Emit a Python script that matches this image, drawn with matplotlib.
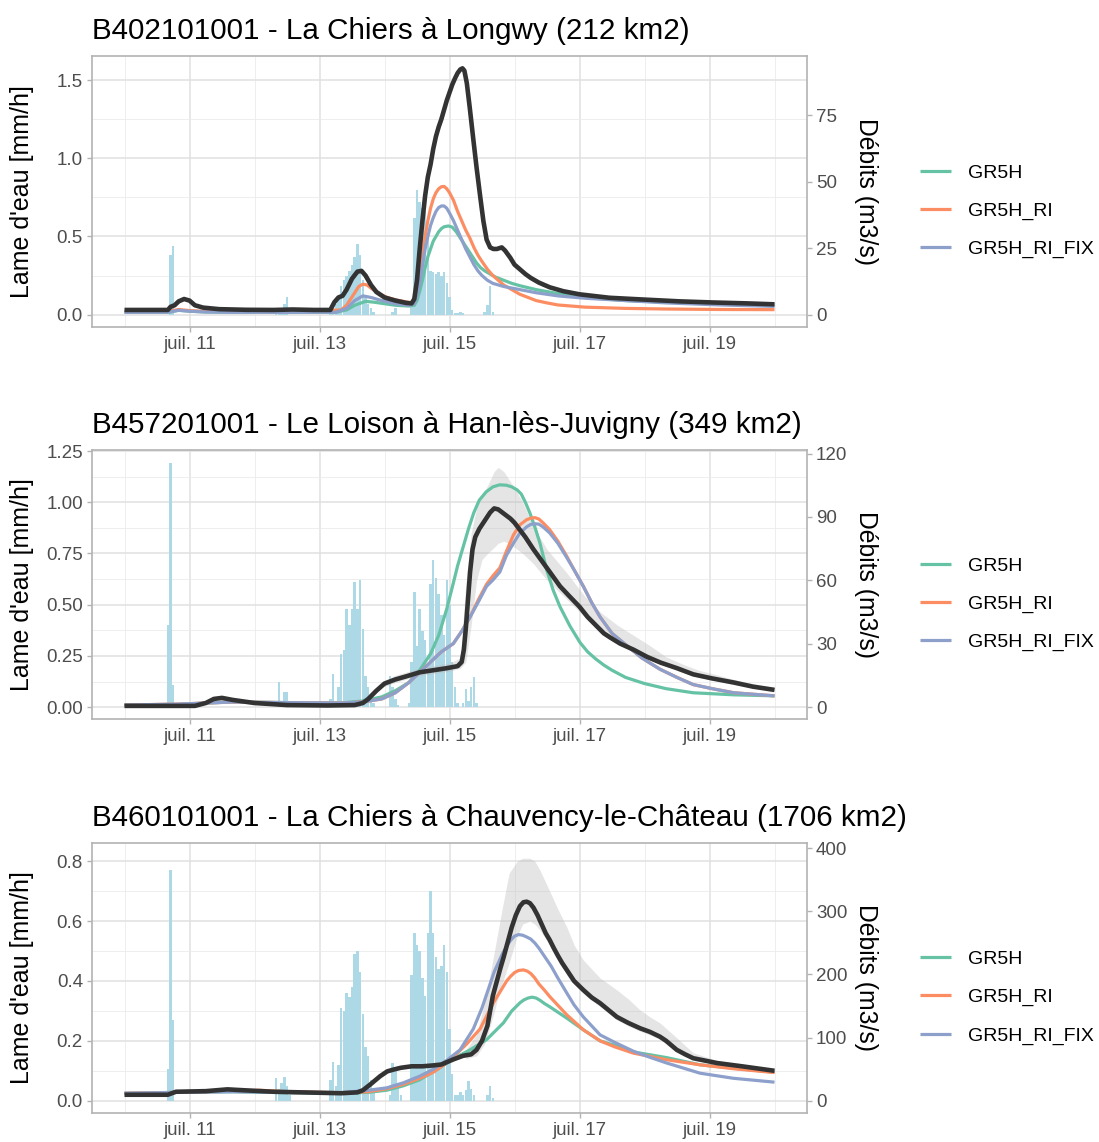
import numpy as np
import matplotlib
matplotlib.use("Agg")
import matplotlib.pyplot as plt
import matplotlib.dates as mdates
from matplotlib.ticker import FixedLocator, FuncFormatter

plt.rcParams['font.family'] = ['Liberation Sans', 'DejaVu Sans']

# ---------------- DATA (hours since 2021-07-10 00:00, values in mm/h) ----------------
titles = ["B402101001 - La Chiers à Longwy (212 km2)",
          "B457201001 - Le Loison à Han-lès-Juvigny (349 km2)",
          "B460101001 - La Chiers à Chauvency-le-Château (1706 km2)"]
areas = [212, 349, 1706]
series_names = ["GR5H", "GR5H_RI", "GR5H_RI_FIX"]

# --- Panel 1 ---
rain1_h = [17, 18, 56, 57, 58, 59, 60,
           76, 77, 78, 79, 80, 81, 82, 83, 84, 85, 86, 87, 88, 89, 90, 91, 92, 99, 100,
           106, 107, 108, 109, 110, 111, 112, 113, 114, 115, 116, 117, 118, 119, 120, 121, 122, 123, 124, 125,
           133, 134, 135, 136]
rain1_v = [0.38, 0.44, 0.01, 0.02, 0.03, 0.07, 0.11,
           0.02, 0.04, 0.07, 0.12, 0.18, 0.22, 0.25, 0.28, 0.32, 0.37, 0.45, 0.38, 0.22, 0.12, 0.07, 0.04, 0.02, 0.02, 0.04,
           0.05, 0.62, 0.80, 0.72, 0.68, 0.66, 0.50, 0.28, 0.27, 0.26, 0.27, 0.25, 0.27, 0.20, 0.11, 0.03, 0.01, 0.01, 0.015, 0.01,
           0.02, 0.06, 0.18, 0.02]
obs1_t = [0, 16, 17, 18.5, 20, 22, 24, 26, 29, 35, 45, 55, 62, 70, 76, 77.5, 79, 80.5, 82, 84, 86, 87.5, 89, 91, 93, 96,
          100, 104, 106, 107, 108, 109, 110, 111, 112, 113, 114, 115, 116, 117, 118, 119, 120, 121, 122, 123, 124,
          124.8, 125.5, 126.4, 127.5, 128.8, 130, 131.3, 132.5, 133.7, 135, 136.2, 137.5, 139.3, 140.5, 142.4, 144,
          146, 148, 150, 153, 157, 162, 168, 179, 190, 205, 217, 230, 240]
obs1_v = [0.03, 0.03, 0.05, 0.06, 0.085, 0.10, 0.09, 0.06, 0.045, 0.035, 0.031, 0.03, 0.033, 0.03, 0.03, 0.08, 0.11,
          0.12, 0.16, 0.23, 0.275, 0.28, 0.25, 0.19, 0.145, 0.11, 0.09, 0.075, 0.072, 0.10, 0.22, 0.42, 0.60, 0.76,
          0.88, 0.96, 1.06, 1.14, 1.20, 1.25, 1.31, 1.37, 1.42, 1.47, 1.51, 1.545, 1.568, 1.575, 1.56, 1.48, 1.32,
          1.12, 0.94, 0.76, 0.60, 0.48, 0.43, 0.42, 0.42, 0.43, 0.41, 0.365, 0.32, 0.29, 0.26, 0.235, 0.205, 0.175,
          0.15, 0.13, 0.108, 0.098, 0.085, 0.078, 0.072, 0.066]
gr5h1_t = [0, 16, 20, 24, 30, 40, 60, 78, 82, 85, 89, 92, 96, 100, 105, 107, 108, 109, 110, 111, 112, 113, 114, 115,
           116, 117, 118, 119.6, 121, 122.5, 124, 125.5, 127, 128.5, 130, 131.5, 133, 135, 137, 140, 143, 146, 152,
           160, 170, 185, 200, 220, 240]
gr5h1_v = [0.015, 0.015, 0.028, 0.022, 0.017, 0.015, 0.015, 0.015, 0.03, 0.06, 0.085, 0.08, 0.07, 0.06, 0.055, 0.06,
           0.09, 0.15, 0.22, 0.30, 0.37, 0.42, 0.47, 0.50, 0.53, 0.55, 0.562, 0.567, 0.56, 0.53, 0.49, 0.45, 0.41,
           0.37, 0.33, 0.30, 0.28, 0.26, 0.24, 0.22, 0.20, 0.185, 0.16, 0.135, 0.11, 0.09, 0.08, 0.07, 0.064]
ri1_t = [0, 16, 20, 24, 30, 40, 60, 80, 82, 83.5, 85, 86.5, 88, 89.5, 91, 93, 95, 97, 100, 103, 106, 107, 108, 109,
         110, 111, 112, 113, 114, 115, 116, 117, 118, 119, 120, 121.5, 123, 124.5, 126, 127.5, 129, 130.5, 132, 134,
         136, 138, 140, 143, 146, 149, 152, 156, 160, 170, 185, 200, 220, 240]
ri1_v = [0.02, 0.02, 0.033, 0.026, 0.021, 0.02, 0.02, 0.03, 0.06, 0.10, 0.14, 0.18, 0.195, 0.19, 0.17, 0.145, 0.125,
         0.11, 0.095, 0.085, 0.075, 0.09, 0.15, 0.25, 0.37, 0.50, 0.60, 0.68, 0.74, 0.78, 0.805, 0.818, 0.82, 0.805,
         0.78, 0.73, 0.66, 0.60, 0.54, 0.49, 0.43, 0.38, 0.34, 0.29, 0.25, 0.22, 0.19, 0.16, 0.13, 0.11, 0.09,
         0.075, 0.062, 0.048, 0.04, 0.036, 0.033, 0.032]
fix1_t = [0, 16, 20, 24, 30, 40, 60, 78, 82, 85, 88, 91, 95, 100, 105, 107, 108, 109, 110, 111, 112, 113, 114, 115,
          116, 117, 118, 119, 120, 121.5, 123, 124.5, 126, 127.5, 129, 130.5, 132, 134, 136, 138, 140, 143, 146, 152,
          160, 170, 185, 200, 220, 240]
fix1_v = [0.015, 0.015, 0.028, 0.022, 0.017, 0.015, 0.015, 0.015, 0.04, 0.09, 0.12, 0.11, 0.09, 0.07, 0.06, 0.07,
          0.12, 0.20, 0.31, 0.42, 0.50, 0.57, 0.62, 0.66, 0.685, 0.695, 0.695, 0.68, 0.65, 0.60, 0.54, 0.48, 0.42,
          0.37, 0.32, 0.28, 0.25, 0.22, 0.20, 0.19, 0.18, 0.17, 0.16, 0.14, 0.12, 0.105, 0.09, 0.075, 0.062, 0.053]

# --- Panel 2 ---
rain2_h = [16, 17, 18, 57, 59, 60,
           76, 77, 78, 79, 80, 81, 82, 83, 84, 85, 86, 87, 88, 89, 90, 91, 92, 98, 99, 100, 101,
           105, 106, 107, 108, 109, 110, 111, 112, 113, 114, 115, 116, 117, 118, 119, 120, 121, 122, 123,
           125, 126, 127, 128, 129, 130]
rain2_v = [0.40, 1.19, 0.11, 0.125, 0.075, 0.075,
           0.04, 0.16, 0.03, 0.10, 0.26, 0.28, 0.48, 0.40, 0.48, 0.61, 0.48, 0.62, 0.38, 0.15, 0.10, 0.05, 0.02,
           0.15, 0.10, 0.04, 0.01,
           0.02, 0.22, 0.56, 0.30, 0.48, 0.37, 0.33, 0.20, 0.60, 0.72, 0.63, 0.55, 0.45, 0.35, 0.62, 0.50, 0.22,
           0.10, 0.02, 0.02, 0.09, 0.03, 0.10, 0.145, 0.02]
obs2_t = [0, 26, 30, 33, 36, 40, 48, 60, 75, 85, 88, 90, 93, 96, 100, 104, 109, 114, 119, 123, 124.5, 125.3, 126,
          126.8, 127.6, 128.5, 129.5, 131, 133, 135, 136.5, 138, 139.5, 141, 142.5, 144, 146, 148, 151, 154, 157,
          160.8, 164, 168, 171, 174, 177, 179.3, 183, 188, 193, 198, 204, 210, 217, 225, 232, 240]
obs2_v = [0.006, 0.006, 0.02, 0.04, 0.045, 0.035, 0.02, 0.01, 0.008, 0.01, 0.02, 0.04, 0.08, 0.115, 0.135, 0.15,
          0.17, 0.18, 0.19, 0.20, 0.22, 0.28, 0.38, 0.52, 0.66, 0.77, 0.83, 0.87, 0.91, 0.95, 0.97, 0.965, 0.95,
          0.935, 0.92, 0.90, 0.865, 0.83, 0.77, 0.715, 0.66, 0.59, 0.545, 0.49, 0.44, 0.40, 0.36, 0.34, 0.31, 0.28,
          0.245, 0.217, 0.19, 0.16, 0.14, 0.12, 0.10, 0.084]
gr5h2_t = [0, 20, 30, 40, 60, 80, 88, 95, 100, 105, 109, 113, 116, 119, 121.5, 123, 125, 127, 129, 131, 133.5, 136,
           138.5, 141, 143, 145, 146.5, 148, 149.7, 151.5, 153.4, 155.9, 158.3, 160.8, 164.5, 168.2, 171, 174, 177,
           180, 185, 192, 200, 210, 225, 240]
gr5h2_v = [0.01, 0.012, 0.02, 0.025, 0.022, 0.02, 0.03, 0.05, 0.08, 0.12, 0.18, 0.26, 0.35, 0.48, 0.61, 0.69, 0.78,
           0.87, 0.95, 1.01, 1.05, 1.075, 1.085, 1.083, 1.075, 1.06, 1.04, 1.0, 0.947, 0.88, 0.80, 0.67, 0.57, 0.49,
           0.395, 0.315, 0.27, 0.235, 0.205, 0.18, 0.145, 0.115, 0.09, 0.07, 0.06, 0.055]
ri2_t = [0, 20, 30, 40, 60, 80, 88, 95, 100, 105, 109, 113, 117, 121.4, 124.5, 127.6, 130.5, 133.7, 136, 138.6, 141,
         143.6, 146, 148.5, 150, 151.5, 153, 154.5, 157, 160, 163.3, 166, 169.4, 172.5, 175.6, 180, 185.5, 191,
         197.7, 204, 210, 217, 225, 240]
ri2_v = [0.01, 0.015, 0.02, 0.025, 0.022, 0.02, 0.025, 0.04, 0.07, 0.12, 0.17, 0.22, 0.27, 0.31, 0.37, 0.44, 0.52,
         0.60, 0.64, 0.68, 0.76, 0.84, 0.89, 0.915, 0.922, 0.925, 0.918, 0.90, 0.866, 0.81, 0.736, 0.67, 0.59, 0.51,
         0.44, 0.36, 0.30, 0.24, 0.185, 0.145, 0.11, 0.09, 0.07, 0.055]
fix2_t = [0, 20, 30, 40, 60, 80, 88, 95, 100, 105, 109, 113, 117, 121.4, 124.5, 127.6, 130.5, 133.7, 136, 138.6, 141,
          143.6, 146, 148.5, 150, 151.5, 153, 154.5, 157, 160, 163.3, 166, 169.4, 172.5, 175.6, 180, 185.5, 191,
          197.7, 204, 210, 217, 225, 240]
fix2_v = [0.01, 0.015, 0.02, 0.025, 0.022, 0.02, 0.025, 0.04, 0.07, 0.12, 0.17, 0.22, 0.27, 0.31, 0.37, 0.44, 0.51,
          0.59, 0.62, 0.66, 0.74, 0.80, 0.85, 0.88, 0.892, 0.895, 0.893, 0.88, 0.85, 0.80, 0.73, 0.67, 0.59, 0.51,
          0.44, 0.36, 0.30, 0.24, 0.185, 0.145, 0.11, 0.09, 0.07, 0.055]
rib2_t = [96, 100, 105, 110, 115, 120, 124, 126, 128, 130, 132, 134, 136.5, 138, 140, 142, 144, 147, 151, 156, 163,
          170, 176, 182, 188, 194, 200, 206, 212, 218, 225, 232, 240]
rib2_hi = [0.13, 0.155, 0.175, 0.195, 0.205, 0.215, 0.24, 0.60, 0.85, 0.97, 1.03, 1.08, 1.15, 1.17, 1.15, 1.11,
           1.07, 1.0, 0.88, 0.77, 0.66, 0.54, 0.46, 0.40, 0.35, 0.30, 0.245, 0.21, 0.18, 0.16, 0.135, 0.115, 0.095]
rib2_lo = [0.10, 0.12, 0.14, 0.155, 0.165, 0.175, 0.19, 0.22, 0.40, 0.62, 0.72, 0.75, 0.78, 0.80, 0.81, 0.80, 0.78,
           0.75, 0.70, 0.62, 0.53, 0.44, 0.37, 0.31, 0.27, 0.23, 0.20, 0.17, 0.145, 0.13, 0.11, 0.095, 0.08]

# --- Panel 3 ---
rain3_h = [16, 17, 18, 56, 57, 58, 59, 60, 61,
           76, 77, 78, 79, 80, 81, 82, 83, 84, 85, 86, 87, 88, 89, 90, 91, 92, 98, 99, 100, 101, 102,
           106, 107, 108, 109, 110, 111, 112, 113, 114, 115, 116, 117, 118, 119, 120, 121, 122, 123, 124, 125, 126,
           127, 128, 129, 134, 135, 136]
rain3_v = [0.105, 0.77, 0.27, 0.075, 0.04, 0.06, 0.08, 0.05, 0.02,
           0.07, 0.13, 0.05, 0.12, 0.31, 0.30, 0.36, 0.345, 0.38, 0.49, 0.50, 0.43, 0.29, 0.18, 0.15, 0.07, 0.03,
           0.02, 0.127, 0.10, 0.05, 0.02,
           0.42, 0.56, 0.52, 0.50, 0.41, 0.35, 0.56, 0.70, 0.56, 0.48, 0.44, 0.45, 0.52, 0.43, 0.24, 0.09, 0.02,
           0.02, 0.03, 0.02, 0.035, 0.065, 0.04, 0.02, 0.02, 0.05, 0.01]
obs3_t = [0, 16, 19, 30, 38, 44, 55, 70, 80, 86, 88, 90.7, 94.4, 97, 99.3, 102, 106, 110, 114, 117, 121.4, 125, 128,
          130, 132, 134, 136, 137.5, 138.7, 140, 141.5, 143, 144.5, 146, 147.3, 148.5, 149.7, 151, 152.5, 154, 155.5,
          157, 158.5, 160, 161.6, 163.3, 166, 169.4, 172.5, 175.6, 181.8, 186, 190.4, 194, 197.7, 200, 203.9, 207,
          210, 218.7, 228, 240]
obs3_v = [0.02, 0.02, 0.03, 0.032, 0.038, 0.035, 0.03, 0.027, 0.025, 0.028, 0.035, 0.054, 0.082, 0.098, 0.104, 0.11,
          0.115, 0.115, 0.118, 0.121, 0.138, 0.15, 0.155, 0.17, 0.20, 0.25, 0.35, 0.40, 0.44, 0.48, 0.53, 0.58,
          0.62, 0.65, 0.663, 0.665, 0.66, 0.645, 0.62, 0.59, 0.56, 0.537, 0.51, 0.485, 0.46, 0.437, 0.40, 0.37,
          0.345, 0.326, 0.28, 0.26, 0.242, 0.23, 0.214, 0.20, 0.17, 0.155, 0.142, 0.126, 0.115, 0.10]
gr5h3_t = [0, 20, 40, 60, 80, 90, 96.8, 103, 109, 115.3, 121.4, 127.6, 133.7, 139.9, 143, 146, 147.5, 149, 150.5,
           152, 153.5, 155, 157, 163.3, 169.4, 175.6, 181, 187.9, 200.2, 212.5, 240]
gr5h3_v = [0.025, 0.028, 0.03, 0.027, 0.025, 0.028, 0.035, 0.05, 0.07, 0.104, 0.14, 0.17, 0.204, 0.26, 0.30, 0.327,
           0.337, 0.343, 0.346, 0.343, 0.335, 0.325, 0.314, 0.276, 0.237, 0.20, 0.185, 0.163, 0.144, 0.12, 0.095]
ri3_t = [0, 20, 40, 50, 60, 80, 90, 96.8, 103, 109, 114, 119, 123, 126.4, 131.3, 136.2, 141.1, 142.5, 144, 145.5,
         147.3, 148.7, 150, 151.5, 153, 155, 157, 163.3, 169.4, 175.6, 181, 187.9, 200.2, 212.5, 224.8, 240]
ri3_v = [0.025, 0.028, 0.032, 0.035, 0.03, 0.027, 0.03, 0.04, 0.055, 0.075, 0.095, 0.127, 0.16, 0.19, 0.24, 0.327,
         0.40, 0.415, 0.428, 0.435, 0.437, 0.433, 0.425, 0.41, 0.39, 0.37, 0.348, 0.287, 0.237, 0.20, 0.18, 0.159,
         0.137, 0.12, 0.107, 0.094]
fix3_t = [0, 20, 40, 60, 80, 90, 96.8, 103, 109, 114, 119, 123.9, 128.8, 132, 135, 136.5, 138, 139.5, 141, 142.5,
          144, 145.5, 147, 148.5, 150, 151.5, 153, 154.5, 156, 157.5, 160, 163.3, 166, 169.4, 175.6, 181, 188, 194,
          200.2, 212.5, 224.8, 240]
fix3_v = [0.025, 0.028, 0.03, 0.028, 0.027, 0.035, 0.043, 0.06, 0.082, 0.105, 0.135, 0.17, 0.24, 0.31, 0.39, 0.43,
          0.46, 0.49, 0.515, 0.535, 0.55, 0.555, 0.553, 0.547, 0.54, 0.527, 0.51, 0.49, 0.47, 0.45, 0.41, 0.36, 0.32,
          0.28, 0.22, 0.195, 0.165, 0.145, 0.126, 0.092, 0.075, 0.062]
rib3_t = [126, 130, 133, 136, 139, 142, 145, 147, 149.7, 151.5, 153.4, 157, 160, 163.3, 166, 169.4, 172.5, 175.6,
          181.8, 186, 190.4, 194, 197.7, 203.9, 210, 218.7, 228, 240]
rib3_hi = [0.17, 0.22, 0.33, 0.47, 0.62, 0.76, 0.80, 0.81, 0.81, 0.80, 0.77, 0.70, 0.64, 0.58, 0.52, 0.47, 0.44, 0.41,
           0.37, 0.34, 0.303, 0.28, 0.26, 0.21, 0.16, 0.135, 0.12, 0.105]
rib3_lo = [0.14, 0.15, 0.19, 0.28, 0.38, 0.46, 0.55, 0.59, 0.60, 0.59, 0.57, 0.52, 0.47, 0.42, 0.39, 0.36, 0.335,
           0.315, 0.27, 0.25, 0.232, 0.22, 0.205, 0.163, 0.137, 0.12, 0.11, 0.095]

left_ticks = [[0, 0.5, 1.0, 1.5], [0, 0.25, 0.5, 0.75, 1.0, 1.25], [0, 0.2, 0.4, 0.6, 0.8]]
left_fmt = ["{:.1f}", "{:.2f}", "{:.1f}"]
right_ticks = [[0, 25, 50, 75], [0, 30, 60, 90, 120], [0, 100, 200, 300, 400]]

# ---------------- STYLE ----------------
COLS = ['#66C2A5', '#FC8D62', '#8DA0CB']
OBS_COL = '#333333'
RAIN_COL = '#ADD8E6'
GRID_COL = '#E0E0E0'
BORDER_COL = '#B3B3B3'
TEXT_COL = '#4D4D4D'

W, H = 1099, 1142
fig = plt.figure(figsize=(W / 100, H / 100), dpi=100)

panel_px = [(56, 327), (450, 719), (843, 1113)]
ylims = [(-0.079, 1.654), (-0.058, 1.255), (-0.041, 0.861)]
BASE = np.datetime64('2021-07-10T00:00')


def to_num(hours):
    secs = np.round(np.asarray(hours, dtype=float) * 3600).astype(np.int64)
    return mdates.date2num(BASE + secs.astype('timedelta64[s]'))


panels = [
    dict(rain=(rain1_h, rain1_v), obs=(obs1_t, obs1_v),
         sims=[(gr5h1_t, gr5h1_v), (ri1_t, ri1_v), (fix1_t, fix1_v)], rib=None),
    dict(rain=(rain2_h, rain2_v), obs=(obs2_t, obs2_v),
         sims=[(gr5h2_t, gr5h2_v), (ri2_t, ri2_v), (fix2_t, fix2_v)], rib=(rib2_t, rib2_lo, rib2_hi)),
    dict(rain=(rain3_h, rain3_v), obs=(obs3_t, obs3_v),
         sims=[(gr5h3_t, gr5h3_v), (ri3_t, ri3_v), (fix3_t, fix3_v)], rib=(rib3_t, rib3_lo, rib3_hi)),
]

xmin = to_num([-12])[0]
xmax = to_num([252])[0]
major_days = to_num([24, 72, 120, 168, 216])
minor_days = to_num([0, 48, 96, 144, 192, 240])

for i, p in enumerate(panels):
    top, bot = panel_px[i]
    ax = fig.add_axes([92 / W, 1 - bot / H, 715 / W, (bot - top) / H])
    ax.set_xlim(xmin, xmax)
    ax.set_ylim(*ylims[i])
    ax.set_axisbelow(True)

    ax.xaxis.set_major_locator(FixedLocator(major_days))
    ax.xaxis.set_minor_locator(FixedLocator(minor_days))
    ax.xaxis.set_major_formatter(FuncFormatter(lambda x, pos: "juil. %d" % mdates.num2date(x).day))
    lt = left_ticks[i]
    ax.yaxis.set_major_locator(FixedLocator(lt))
    step = lt[1] - lt[0]
    minors = [v + step / 2 for v in lt if v + step / 2 < ylims[i][1]]
    ax.yaxis.set_minor_locator(FixedLocator(minors))
    fmt = left_fmt[i]
    ax.yaxis.set_major_formatter(FuncFormatter(lambda v, pos, f=fmt: f.format(v)))
    ax.grid(which='major', color=GRID_COL, linewidth=1.1)
    ax.grid(which='minor', color='#EBEBEB', linewidth=0.6)
    ax.tick_params(which='major', length=3.5, width=1.0, color=BORDER_COL, labelcolor=TEXT_COL,
                   labelsize=13.5, pad=3)
    ax.tick_params(which='minor', length=0)
    for s in ax.spines.values():
        s.set_color(BORDER_COL)
        s.set_linewidth(1.2)

    rh, rv = p['rain']
    ax.bar(to_num(rh), rv, width=0.92 / 24, color=RAIN_COL, linewidth=0, zorder=1)

    if p['rib'] is not None:
        t, lo, hi = p['rib']
        ax.fill_between(to_num(t), lo, hi, color='#BEBEBE', alpha=0.4, linewidth=0, zorder=2)

    handles = []
    for (t, v), c, name in zip(p['sims'], COLS, series_names):
        ln, = ax.plot(to_num(t), v, color=c, linewidth=2.3, solid_capstyle='butt', solid_joinstyle='round',
                      zorder=3, label=name)
        handles.append(ln)
    ot, ov = p['obs']
    ax.plot(to_num(ot), ov, color=OBS_COL, linewidth=3.3, solid_capstyle='butt', solid_joinstyle='round', zorder=4)

    A = areas[i]
    sec = ax.secondary_yaxis('right', functions=(lambda x, A=A: x * A / 3.6, lambda q, A=A: q * 3.6 / A))
    sec.yaxis.set_major_locator(FixedLocator(right_ticks[i]))
    sec.yaxis.set_major_formatter(FuncFormatter(lambda v, pos: "%d" % round(v)))
    sec.tick_params(length=3.5, width=1.0, color=BORDER_COL, labelcolor=TEXT_COL, labelsize=13.5, pad=3)
    sec.spines['right'].set_visible(False)

    yc = 1 - (top + bot) / 2 / H
    fig.text(92 / W, 1 - (top - 25) / H, titles[i], ha='left', va='center', fontsize=21.3, color='black')
    fig.text(22 / W, yc, "Lame d'eau [mm/h]", rotation=90, ha='center', va='center', fontsize=18, color='black')
    fig.text(866 / W, yc, "Débits (m3/s)", rotation=270, ha='center', va='center', fontsize=17.8, color='black')

    leg = ax.legend(handles=handles, loc='center left', bbox_to_anchor=(920 / W, 1 - (top + bot + 39) / 2 / H),
                    bbox_transform=fig.transFigure, frameon=False, fontsize=14, handlelength=1.6,
                    handletextpad=0.85, labelspacing=1.05, borderpad=0, borderaxespad=0)
    for lh in leg.get_lines():
        lh.set_linewidth(2.3)

fig.savefig("out.png", dpi=100)
